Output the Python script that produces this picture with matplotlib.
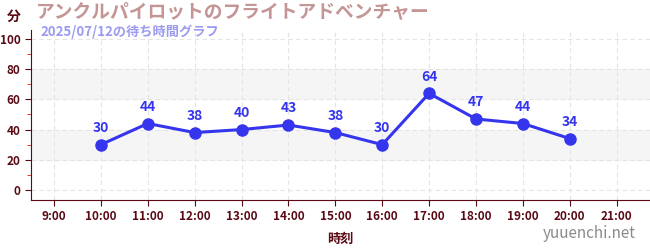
import matplotlib
matplotlib.use("Agg")
import matplotlib.pyplot as plt
from matplotlib.ticker import MultipleLocator

plt.rcParams['font.family'] = ['Noto Sans CJK JP', 'DejaVu Sans']

hours = [10, 11, 12, 13, 14, 15, 16, 17, 18, 19, 20]
waits = [30, 44, 38, 40, 43, 38, 30, 64, 47, 44, 34]
tick_hours = list(range(9, 22))
tick_labels = [f"{h}:00" for h in tick_hours]

title = "アンクルパイロットのフライトアドベンチャー"
subtitle = "2025/07/12の待ち時間グラフ"

axis_col = "#5a0a14"
line_col = "#3535ee"

fig = plt.figure(figsize=(6.5, 2.5), dpi=100)
ax = fig.add_axes([31 / 650, 50 / 250, 619 / 650, 170 / 250])

ax.set_xlim(8.51, 21.71)
ax.set_ylim(-6.7, 106)

for lo, hi in [(20, 40), (60, 80)]:
    ax.axhspan(lo, hi, color="#f5f5f5", zorder=0)

ax.grid(True, which="major", color="#e4e4e4", linestyle=(0, (4, 3)), linewidth=0.8, zorder=0)

ax.plot(hours, waits, color=line_col, linewidth=2.2, marker="o", markersize=8, zorder=3)
for h, w in zip(hours, waits):
    ax.annotate(str(w), (h, w), xytext=(0, 7), textcoords="offset points",
                ha="center", va="bottom", color=line_col, fontsize=10, fontweight="bold")

ax.set_xticks(tick_hours)
ax.set_xticklabels(tick_labels)
ax.yaxis.set_major_locator(MultipleLocator(20))
ax.yaxis.set_minor_locator(MultipleLocator(10))
ax.tick_params(axis="both", which="major", colors=axis_col, labelsize=8.5, length=4)
ax.tick_params(axis="y", which="minor", colors="#d02020", length=3)
for lab in ax.get_xticklabels() + ax.get_yticklabels():
    lab.set_color(axis_col)
    lab.set_fontweight("bold")

for side in ["top", "right"]:
    ax.spines[side].set_visible(False)
for side in ["left", "bottom"]:
    ax.spines[side].set_color(axis_col)

ax.set_xlabel("時刻", color=axis_col, fontsize=9.5, fontweight="bold", labelpad=6)

fig.text(14 / 650, 1 - 17 / 250, "分", color=axis_col, fontsize=10, fontweight="bold", ha="center", va="center")
fig.text(36 / 650, 1 - 12 / 250, title, color="#c49595", fontsize=13.5, fontweight="bold", ha="left", va="center")
fig.text(40 / 650, 1 - 32 / 250, subtitle, color="#9b9bf0", fontsize=9.5, fontweight="bold", ha="left", va="center")
fig.text(636 / 650, 1 - 234 / 250, "yuuenchi.net", color="#8a8a8a", fontsize=11, ha="right", va="center")

fig.savefig("out.png", dpi=100)
